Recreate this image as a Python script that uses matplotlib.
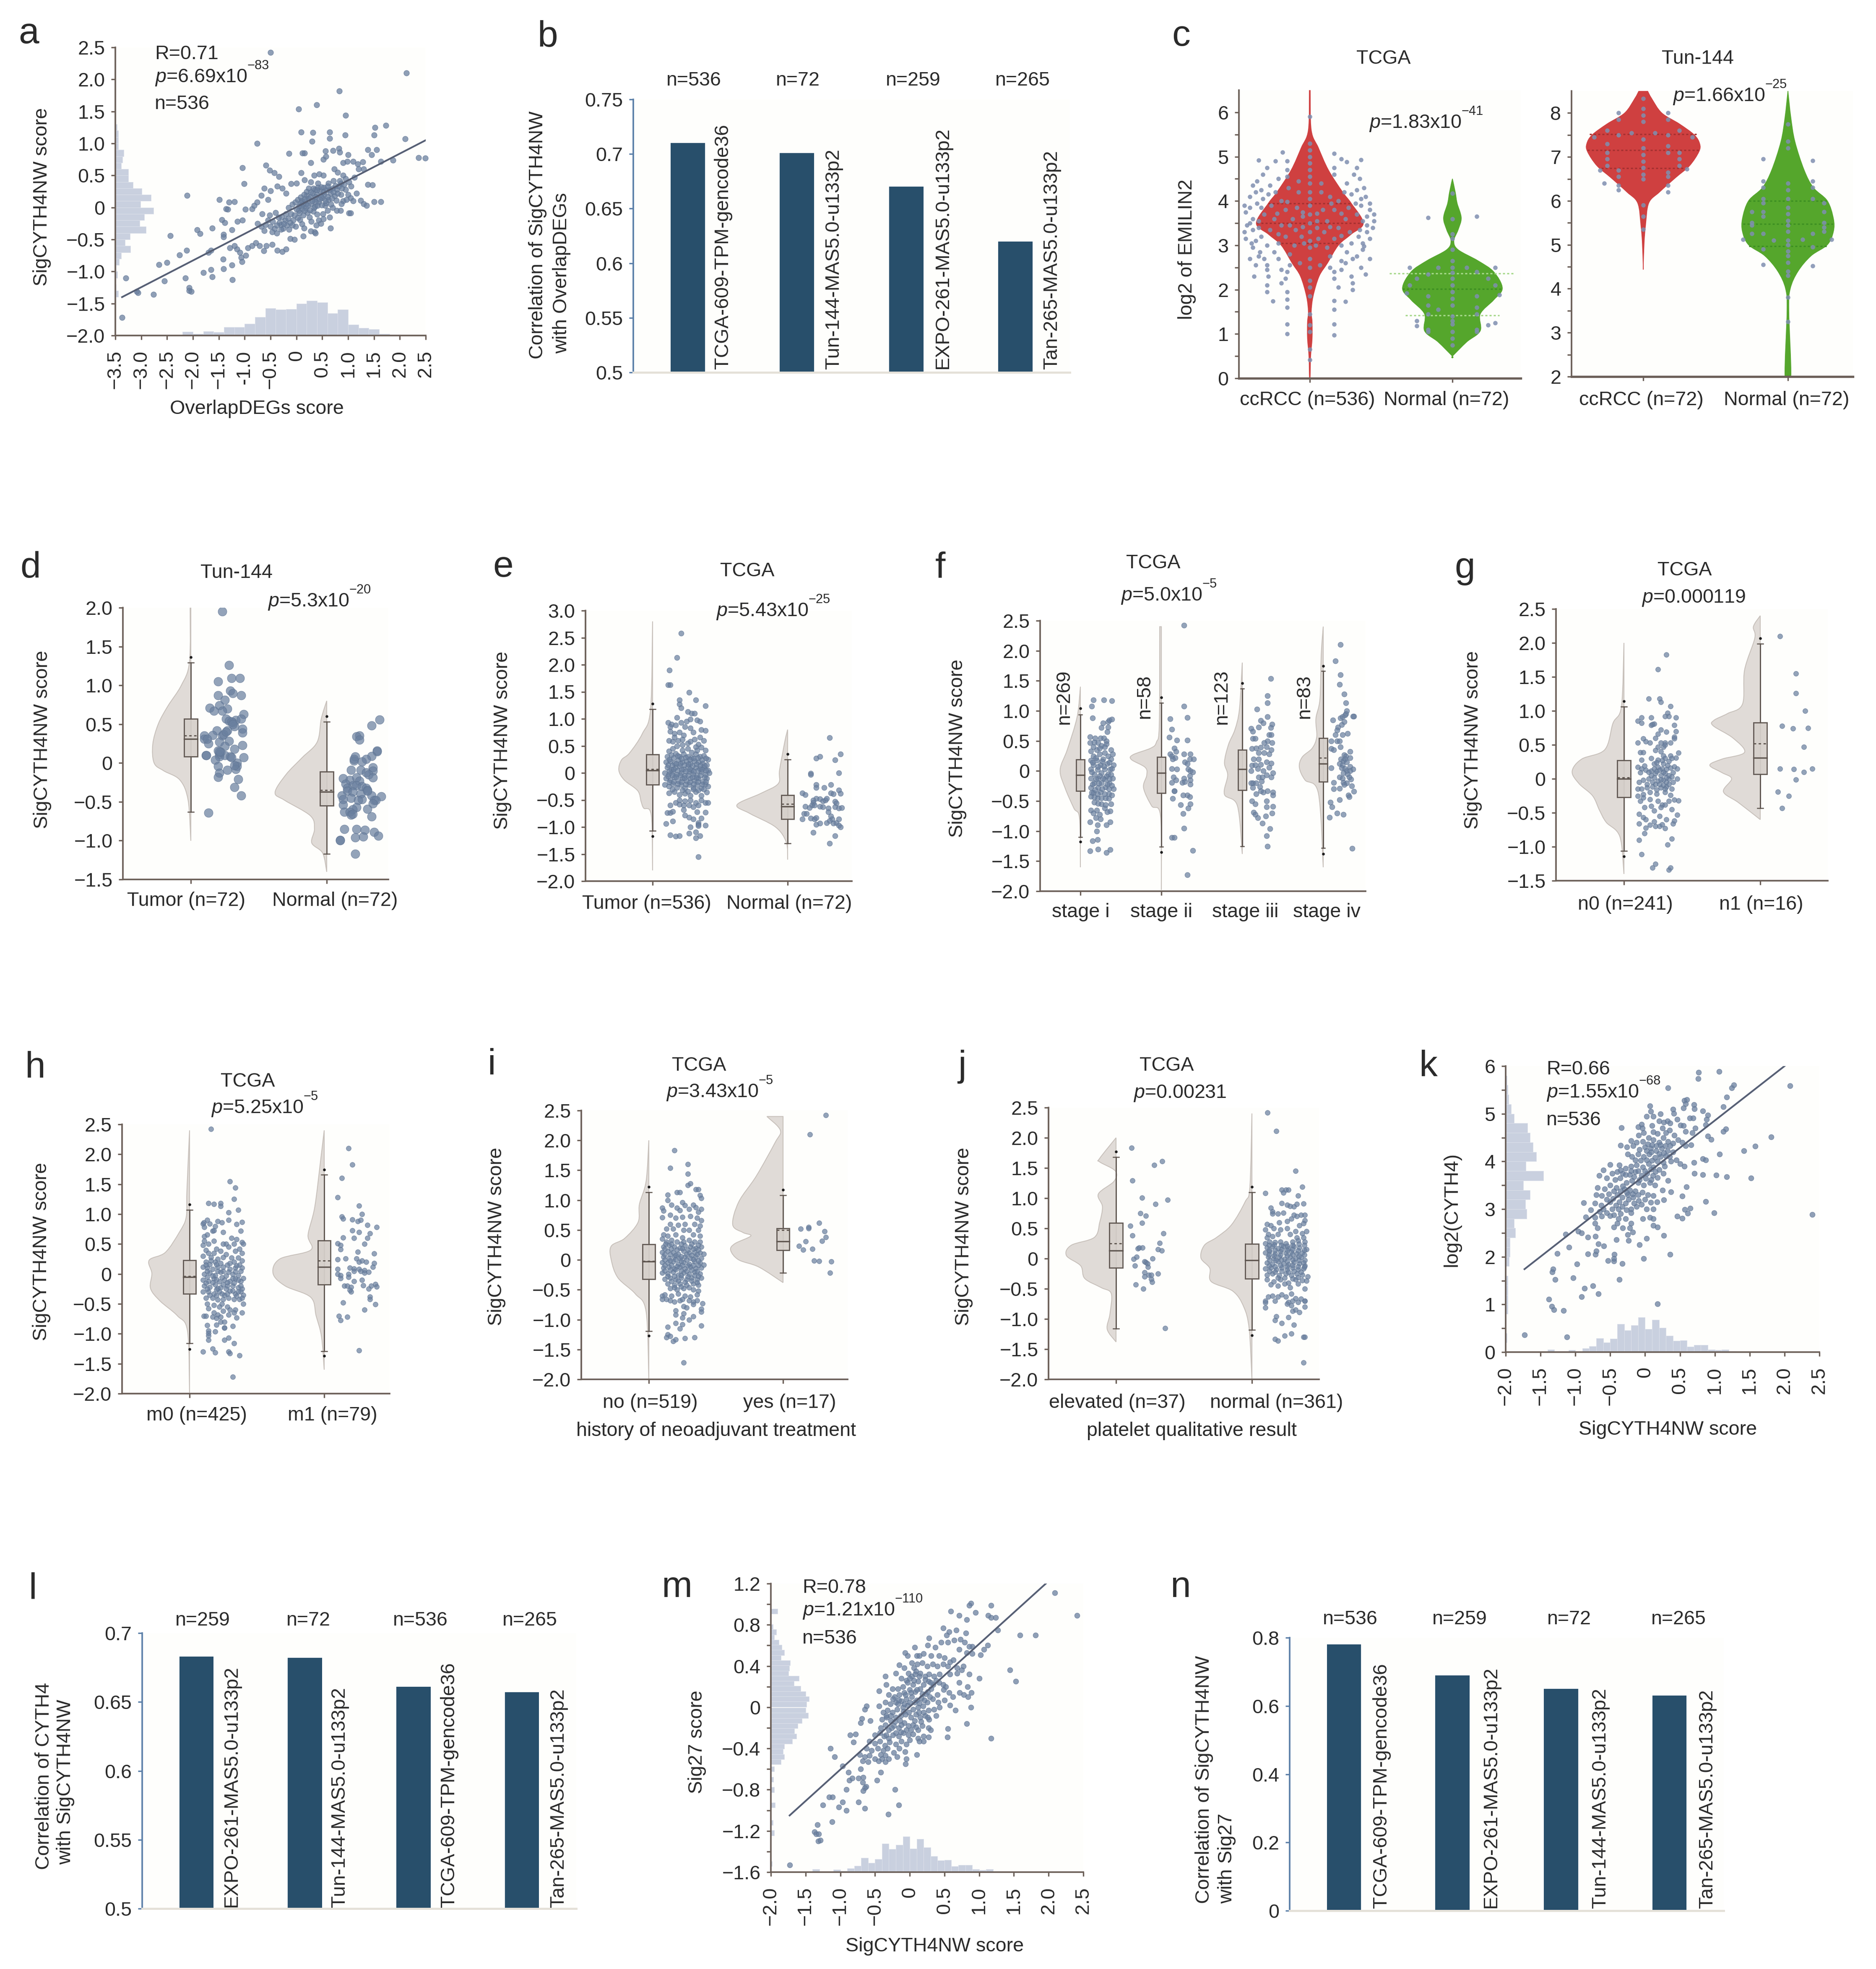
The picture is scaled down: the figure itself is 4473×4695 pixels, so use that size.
import numpy as np
import matplotlib
matplotlib.use('Agg')
import matplotlib.pyplot as plt
from matplotlib.path import Path
from matplotlib.patches import PathPatch, Rectangle

plt.rcParams['font.family'] = ['Liberation Sans', 'DejaVu Sans']
plt.rcParams['mathtext.fontset'] = 'custom'
plt.rcParams['mathtext.rm'] = 'Liberation Sans'
plt.rcParams['mathtext.it'] = 'Liberation Sans:italic'

W, H = 4473, 4695
FS = 11.2
TXT = '#2a2a2a'
AXC = '#6b5f58'
DOT = '#6a809f'
GREY = '#e0dbd7'
BAR = '#284f6b'

# ---------- scatter a ----------
a_pts = [(-.5,2.42),(2.13,2.1),(.83,1.82),(.04,1.54),(.39,1.6),(.95,1.44),(1.52,1.25),(1.73,1.28),(.09,1.18),(.32,1.17),(.64,1.18),(.64,1.08),(.94,1.13),(1.5,1.13),(2.1,1.07),(.3,1.03),(-.76,1.0),(2.36,.78),(2.49,.77),
(-3.37,-1.72),(-3.3,-1.1),(-3.09,-1.31),(-3.06,-1.33),(-2.76,-1.36),(-2.11,.19),(-2.44,-.44),(-2.66,-.89),(-2.5,-.86),(-2.55,-1.15),(-2.15,-1.1),(-2.07,-1.25),(-2.07,-1.3),(-2.03,-1.31),(-2.12,-.67),(-2.26,-.74),(-1.92,-.35),(-1.86,-.41),(-1.63,-.32),(-1.8,-1.02),(-1.65,-.97),(-1.63,-1.08),(-1.41,-.96),(-1.24,-1.13),(-1.25,-.9),(-1.42,-.81),(-1.49,.12),(-1.04,.62),(-1.01,.37),(-.59,.66),(-.52,.58),(-.43,.54),(-.34,.48),
(-1.3,.08),(-1.2,.09),(-1.36,-.02),(-1.33,-.03),(-1.44,-.19),(-1.38,-.24),(-1.41,-.42),(-1.41,-.46),(-1.65,-.67),(-1.7,-.7),(-1.25,-.35),(-1.14,-.22),(-1.04,-.2),(-.99,-.03),(-.86,-.02),(-.82,.03),(-.76,.08),(-.68,.19),(-.62,.3),(-.55,.12),(-.5,.26),(-.37,.33),(-.27,.3),(-.2,.22),(-.1,.37),(.0,.38),(.09,.54),(.24,.3),(.34,.5),(.44,.52),(.52,.5),
(1.0,.82),(1.1,.72),(1.19,.68),(1.28,.71),(1.38,.9),(1.45,.82),(1.55,.9),(1.63,.72),(1.87,.74),(1.12,.47),(1.2,.6),(1.3,.6),(1.38,.36),(1.47,.35),(1.16,.22),(1.24,.11),(1.3,.06),(1.36,.03),(1.5,.09),(1.63,.09),(1.02,-.09),(1.05,-.09),(.66,-.32),(.35,-.38),(.37,-.4),
(.82,.92),(.71,.89),(.56,.88),(.16,.85),(-.14,.84),(.12,.85),(.28,.7),(.52,.75),(.57,.8),(.84,.86),(.9,.7),(.98,.72),(.73,.6),(.8,.55),(.9,.5),(.95,.45),(1.02,.4),(1.06,.33),(.86,.38),(.72,.42),(.62,.38),(.53,.31),(.42,.38),(.16,.43),(.28,.4),(.36,.28),
(-1.15,-.65),(-1.09,-.7),(-1.07,-.78),(-1.05,-.85),(-.98,-.75),(-.94,-.63),(-.86,-.6),(-.78,-.55),(-.71,-.6),(-.63,-.68),(-.58,-.6),(-.47,-.58),(-.37,-.67),(-.27,-.69),(-.2,-.65),(-.12,-.49),(-.04,-.5),(.13,-.45),(.28,-.37),(-1.2,-.6),(-1.29,-.63),
(-.75,-.25),(-.68,-.3),(-.62,-.36),(-.55,-.2),(-.5,-.3),(-.47,-.38),(-.42,-.33),(-.38,-.4),(-.33,-.24),(-.28,-.15),(-.22,-.2),(-.18,-.28),(-.14,-.34),(-.1,-.1),(-.06,-.2),(-.01,-.3),(.04,-.05),(.07,-.19),(.11,-.26),(.15,-.32),(.18,.0),(.21,-.08),(.25,-.15),(.29,-.22),(.33,-.06),(.36,.02),(.4,-.11),(.43,-.2),(.47,-.25),(.51,-.1),(.55,.03),(.6,-.05),(.64,-.15),(.7,.0),(.78,-.05),(.85,-.05),
(-.15,.0),(-.08,.05),(-.02,.08),(.03,.12),(.08,.16),(.12,.05),(.17,.1),(.2,.19),(.24,.14),(.28,.06),(.31,.22),(.35,.12),(.39,.2),(.43,.08),(.46,.26),(.5,.15),(.54,.2),(.58,.27),(.62,.12),(.66,.22),(.7,.3),(.74,.18),(.78,.28),(.82,.33),(.86,.2),(.9,.1),(.95,.28),(1.0,.2),(1.05,.15),(1.1,.1),(.2,.25),(.33,.3),(.42,.31),(.15,.2),(.1,.1),(.05,.02),(.12,-.02),(.27,.16),(.37,.09),(.47,.17),(.57,.07),(.67,.05),(.77,.11),(.87,.06),(.97,.12),
(-.4,-.08),(-.35,-.15),(-.3,-.27),(-.26,-.33),(-.2,-.1),(-.16,-.17),(-.12,-.24),(-.08,-.28),(-.04,-.12),(0,-.03),(.03,-.16),(.06,-.09),(.09,.03),(.13,-.12),(.16,-.05),(.19,.06),(.22,.03),(.26,-.04),(.3,.1),(.34,.0),(.37,.17),(.41,.03),(.45,.13),(.49,.04),(.52,.24),(.56,.11),(.6,.17),(.64,.28),(.68,.14),(.72,.24),(.76,.34),(.8,.22),(.84,.42),(.88,.3),(.92,.36),(.28,.24),(.16,.13),(.4,.27),(.08,.07),(-.46,-.22),(-.52,-.12),(-.6,-.27),(-.66,-.1),(-.38,-.28),(-.24,-.25),(-.3,-.34),(.48,.32),(.6,.33),(.52,-.18),(.38,-.28)]
a_line_x = [-3.37, 2.5]
a_line_y = [-1.4, 1.05]
a_hx_left = [-2.2,-2.0,-1.8,-1.6,-1.4,-1.2,-1.0,-.8,-.6,-.4,-.2,0,.2,.4,.6,.8,1.0,1.2,1.4,1.6,1.8]
a_hx_h = [.06,.023,.065,.055,.13,.13,.185,.29,.425,.406,.415,.5,.545,.517,.346,.406,.17,.115,.1,.023,.01]
a_hy_c = [1.25,1.15,1.05,.95,.85,.75,.65,.55,.45,.35,.25,.15,.05,-.05,-.15,-.25,-.35,-.45,-.55,-.65,-.75,-.85,-.95,-1.05,-1.15,-1.25,-1.35]
a_hy_w = [.03,.06,.06,.06,.16,.14,.11,.25,.25,.34,.51,.69,.49,.74,.56,.47,.59,.28,.19,.29,.11,.07,.02,.04,.01,.02,.06]

# ---------- bars ----------
b_vals = [.71,.701,.67,.62]
b_labels = ['TCGA-609-TPM-gencode36','Tun-144-MAS5.0-u133p2','EXPO-261-MAS5.0-u133p2','Tan-265-MAS5.0-u133p2']
b_ns = ['n=536','n=72','n=259','n=265']
l_vals = [.683,.682,.661,.657]
l_labels = ['EXPO-261-MAS5.0-u133p2','Tun-144-MAS5.0-u133p2','TCGA-609-TPM-gencode36','Tan-265-MAS5.0-u133p2']
l_ns = ['n=259','n=72','n=536','n=265']
n_vals = [.78,.69,.65,.63]
n_labels = ['TCGA-609-TPM-gencode36','EXPO-261-MAS5.0-u133p2','Tun-144-MAS5.0-u133p2','Tan-265-MAS5.0-u133p2']
n_ns = ['n=536','n=259','n=72','n=265']

# ---------- violins c (y, half width in category units) ----------
c1t_v = [(6.5,.003),(5.6,.01),(5.2,.06),(4.7,.13),(4.2,.23),(3.95,.29),(3.5,.375),(3.25,.29),(3.0,.2),(2.6,.124),(2.3,.065),(1.85,.023),(1.5,.01),(1.27,.016),(.9,.016),(.5,.006),(0,.002)]
c1n_v = [(4.5,.0),(4.2,.02),(3.95,.033),(3.62,.062),(3.35,.04),(3.1,.01),(2.9,.04),(2.65,.18),(2.4,.29),(2.03,.35),(1.77,.29),(1.45,.195),(1.07,.195),(.82,.1),(.5,0)]
c2t_v = [(8.5,.03),(8.33,.058),(8,.128),(7.75,.25),(7.5,.353),(7.3,.39),(7.12,.385),(6.8,.32),(6.53,.224),(6.2,.112),(5.95,.038),(5.45,.016),(5.05,.006),(4.5,0)]
c2n_v = [(8.5,0),(7.9,.02),(7.35,.048),(6.7,.112),(6.3,.176),(6,.272),(5.6,.314),(5.3,.314),(5,.272),(4.75,.16),(4.4,.07),(4.0,.016),(3.5,.006),(2,.02)]
c1t_q = [(3.95,.29),(3.5,.37),(3.05,.2)]
c1n_q = [(2.37,.44),(2.02,.35),(1.42,.33)]
c2t_q = [(7.52,.37),(7.15,.385),(6.74,.29)]
c2n_q = [(6.0,.27),(5.47,.31),(4.97,.27)]
c1t_p = [(-.19,5.1),(-.16,4.9),(-.24,4.9),(-.36,4.92),(-.3,4.75),(.17,5.07),(.22,4.95),(.26,4.88),(.36,4.93),(.33,4.75),(-.33,4.6),(-.16,4.7),(-.16,4.55),(.17,4.75),(.17,4.6),(.31,4.6),(.35,4.5),(-.37,4.45),(-.28,4.35),(-.22,4.5),(.26,4.4),(.38,4.3),(-.42,4.1),(-.38,4.2),(-.33,4.05),(.39,4.1),(.42,3.95),(-.46,3.9),(-.45,3.75),(-.42,3.85),(-.4,3.6),(.42,3.8),(.45,3.7),(.45,3.55),(.4,3.65),(-.44,3.45),(-.46,3.3),(-.4,3.35),(.44,3.4),(.4,3.3),(-.45,3.15),(-.38,3.1),(.42,3.15),(.37,3.05),(-.4,2.95),(-.35,2.85),(-.32,2.7),(.37,2.9),(.33,2.75),(.42,2.7),(-.42,2.7),(-.38,2.55),(-.3,2.55),(.25,2.6),(.36,2.5),(-.39,2.3),(-.3,2.45),(-.16,2.4),(-.17,2.25),(.17,2.4),(.17,2.25),(.39,2.35),(-.3,2.1),(-.2,2.15),(.2,2.05),(.3,2.15),(-.3,1.95),(-.16,1.95),(.3,2.0),(-.16,1.78),(-.26,1.74),(.17,1.75),(.25,1.73),(-.16,1.6),(.17,1.55),(-.16,1.22),(.17,1.22),(-.16,1.0),(.17,.97),
(0,5.9),(0,5.3),(0,5.15),(0,5.0),(0,4.85),(0,4.7),(0,4.55),(0,4.4),(0,4.2),(0,4.05),(0,3.9),(0,3.7),(0,3.5),(0,3.3),(0,3.1),(0,2.95),(0,2.7),(0,2.5),(0,2.2),(0,2.05),(0,1.85),(0,1.45),(0,1.2),(0,1.05),(0,.65),(0,.42),
(-.08,4.45),(.08,4.4),(-.08,4.2),(.08,4.2),(-.15,4.3),(.14,4.1),(-.2,4.0),(.2,4.0),(-.27,3.9),(.27,3.85),(-.32,3.7),(.33,3.7),(-.25,3.6),(.25,3.6),(-.17,3.8),(.17,3.8),(-.09,3.85),(.09,3.8),(-.12,3.6),(.12,3.55),(-.05,3.65),(.05,3.55),(-.2,3.45),(.2,3.4),(-.28,3.35),(.28,3.3),(-.1,3.35),(.1,3.3),(-.17,3.2),(.17,3.15),(-.06,3.2),(.06,3.15),(-.22,3.05),(.22,3.0),(-.11,3.0),(.12,2.95),(-.14,2.8),(.14,2.75),(-.07,2.6),(.07,2.55),(-.14,2.55),(.14,2.5),
(-.4,4.35),(-.34,4.25),(-.29,4.15),(-.24,4.2),(.33,4.25),(.29,4.15),(.24,4.2),(.36,4.05),(-.37,3.95),(-.34,3.85),(.36,3.9),(.32,3.95),(-.42,3.5),(-.36,3.55),(.37,3.55),(.4,3.45),(-.36,3.4),(.35,3.35),(-.34,3.2),(.34,3.2),(-.41,3.05),(-.3,3.0),(.29,3.05),(.38,2.98),(-.36,2.75),(-.25,2.85),(.26,2.85),(.3,2.7),(-.22,2.7),(.22,2.65),(-.16,3.98),(.15,3.95),(-.23,3.72),(.22,3.72),(-.14,3.45),(.14,3.42),(-.22,3.25),(.22,3.22),(-.04,3.05),(.04,3.0),(-.05,3.42),(.05,3.4),(-.05,3.75),(.05,3.72),(-.29,2.3),(.29,2.3),(-.2,2.45),(.22,2.45)]
c1n_p = [(-.17,3.62),(.17,3.65),(0,4.17),(0,3.6),(0,3.25),(0,3.15),(0,2.9),(0,2.65),(0,2.5),(0,2.38),(0,2.25),(0,2.1),(0,1.95),(0,1.8),(0,1.65),(0,1.4),(0,1.3),(0,1.22),(0,1.05),(0,.9),(0,.75),(-.1,2.5),(.1,2.5),(-.17,2.35),(.17,2.4),(-.3,2.5),(.3,2.5),(-.25,2.25),(.25,2.25),(-.3,2.1),(.3,2.1),(-.32,1.92),(.33,1.88),(-.17,1.85),(.17,1.85),(-.17,1.65),(-.1,1.55),(.17,1.6),(-.17,1.45),(.17,1.45),(-.25,1.3),(-.25,1.18),(.25,1.2),(-.17,1.1),(-.17,1.05),(.17,1.1),(.17,1.05),(.3,1.25)]
c2t_p = [(0,8.33),(0,8.1),(0,7.95),(0,7.8),(-.17,8.0),(-.17,7.85),(.17,8.0),(.17,7.85),(-.25,7.6),(-.17,7.5),(.25,7.6),(.17,7.5),(-.34,7.45),(.34,7.45),(-.08,7.55),(.08,7.55),(0,7.4),(0,7.2),(0,7.05),(0,6.9),(0,6.75),(0,6.6),(0,6.5),(0,5.9),(0,5.65),(0,5.35),(-.25,7.3),(.17,7.25),(.17,7.1),(-.25,7.1),(-.25,6.95),(.25,7.1),(.25,6.95),(.25,6.8),(-.25,6.8),(-.17,6.7),(.17,6.65),(-.3,6.7),(.3,6.72),(-.17,6.55),(.17,6.55),(-.27,6.4),(.17,6.2),(-.17,6.35),(.17,6.35),(-.17,6.25)]
c2n_p = [(0,7.75),(0,7.35),(0,7.2),(-.17,6.95),(.17,6.92),(.17,6.45),(-.17,6.45),(0,6.4),(0,6.25),(.17,6.3),(-.17,6.3),(0,6.05),(-.17,6.05),(.17,6.05),(-.17,5.95),(.25,5.95),(-.25,5.75),(-.17,5.75),(.25,5.75),(0,5.85),(0,5.7),(0,5.55),(0,5.45),(-.25,5.5),(-.25,5.45),(.25,5.5),(.25,5.4),(-.17,5.65),(0,5.3),(-.17,5.25),(.17,5.25),(.25,5.3),(-.25,5.25),(-.31,5.12),(.3,5.12),(-.1,5.1),(.1,5.12),(0,5.1),(0,5.0),(-.17,4.9),(.17,4.95),(0,4.85),(0,4.75),(0,4.6),(-.17,4.55),(.17,4.52),(0,4.4),(0,4.3),(0,3.8),(0,3.25)]

# ---------- raincloud panels: half violin outlines ----------
d_v = [[(2.0,.005),(1.3,.01),(1.0,.07),(.73,.17),(.5,.24),(.24,.28),(0,.27),(-.1,.2),(-.22,.08),(-.48,.02),(-1,0)],
       [(.8,0),(.57,.04),(.27,.07),(.07,.18),(-.15,.3),(-.38,.38),(-.48,.31),(-.68,.12),(-.85,.09),(-1.03,.11),(-1.16,.03),(-1.4,0)]]
e_v = [[(2.8,0),(1.18,.015),(.73,.075),(.37,.17),(.24,.23),(.05,.25),(-.13,.21),(-.33,.11),(-.53,.085),(-.65,.066),(-.78,.01),(-1.8,0)],
       [(.8,0),(.59,.02),(.05,.06),(-.2,.07),(-.38,.2),(-.59,.375),(-.75,.28),(-1.0,.09),(-1.28,.01),(-1.6,0)]]
f_v = [[(1.4,0),(.9,.04),(.36,.16),(.02,.25),(-.28,.19),(-.62,.08),(-.79,.01),(-1.6,0)],
       [(2.4,.02),(.78,.025),(.48,.06),(.38,.13),(.27,.35),(.19,.37),(.06,.2),(-.07,.18),(-.28,.22),(-.58,.12),(-.75,.01),(-1.98,0)],
       [(1.8,0),(1.03,.035),(.69,.09),(.44,.17),(.14,.22),(-.07,.18),(-.39,.22),(-.58,.06),(-1.38,0)],
       [(2.4,0),(1.93,.025),(1.2,.04),(.87,.09),(.57,.08),(.38,.135),(.23,.26),(.06,.295),(-.15,.225),(-.37,.06),(-1.6,0)]]
g_v = [[(2.0,0),(1.07,.018),(.82,.08),(.43,.14),(.29,.31),(.11,.38),(-.07,.33),(-.25,.23),(-.46,.18),(-.64,.13),(-.85,.03),(-1.4,0)],
       [(2.4,0),(2.24,.05),(2.07,.04),(1.6,.115),(1.1,.13),(.96,.24),(.86,.34),(.78,.345),(.6,.2),(.39,.115),(.29,.28),(.2,.37),(.09,.28),(0,.21),(-.19,.27),(-.35,.16),(-.6,0)]]
h_v = [[(2.4,0),(1.38,.02),(.95,.025),(.7,.075),(.36,.18),(.23,.3),(.01,.28),(-.24,.29),(-.45,.22),(-.7,.09),(-.96,.015),(-2,0)],
       [(2.4,0),(1.93,.025),(1.12,.07),(.65,.12),(.4,.1),(.25,.33),(.01,.38),(-.2,.29),(-.39,.1),(-.7,.06),(-1.05,.02),(-1.6,0)]]
i_v = [[(2.0,0),(1.32,.02),(.93,.07),(.63,.08),(.36,.18),(.23,.28),(0,.28),(-.3,.23),(-.57,.1),(-.87,.02),(-2,0)],
       [(2.4,.12),(2.17,.02),(1.96,.06),(1.4,.2),(.97,.33),(.59,.375),(.46,.3),(.4,.24),(.27,.36),(.16,.39),(0,.33),(-.12,.18),(-.38,0)]]
j_v = [[(2.0,0),(1.66,.12),(1.6,.12),(1.45,.005),(1.28,.015),(1.07,.13),(.86,.1),(.6,.12),(.35,.16),(.22,.33),(.05,.365),(-.12,.26),(-.33,.23),(-.48,.11),(-.58,.035),(-.92,.045),(-1.17,.065),(-1.38,0)],
       [(2.4,0),(1.19,.015),(.94,.05),(.56,.15),(.35,.26),(.22,.35),(.01,.375),(-.16,.31),(-.38,.3),(-.54,.14),(-.8,.06),(-1.17,.02),(-2,0)]]

# box stats: q1, median, mean, q3, whisker low, whisker high, outliers
d_b = [(.08,.31,.35,.57,-.63,1.29,[1.36]),(-.55,-.37,-.35,-.11,-1.17,.53,[.6])]
e_b = [(-.22,.05,.07,.34,-1.07,1.18,[1.28,-1.17]),(-.85,-.62,-.57,-.41,-1.3,.25,[.35])]
f_b = [(-.33,-.07,-.07,.19,-1.1,.94,[1.04,-1.18]),(-.37,-.03,-.03,.23,-1.26,1.13,[1.22,-1.35]),(-.32,.03,.03,.35,-1.25,1.37,[1.46]),(-.18,.12,.22,.55,-1.28,1.66,[1.75,-1.38])]
g_b = [(-.27,0,.02,.27,-1.06,1.06,[1.14,-1.14]),(.07,.31,.52,.83,-.43,1.99,[2.07])]
h_b = [(-.33,-.05,-.04,.23,-1.16,1.07,[1.16,-1.26]),(-.18,.12,.22,.56,-1.29,1.66,[1.74,-1.37])]
i_b = [(-.32,-.03,-.02,.26,-1.19,1.13,[1.22,-1.27]),(.16,.31,.5,.53,-.22,1.08,[1.17])]
j_b = [(-.15,.13,.25,.59,-1.16,1.68,[1.77]),(-.33,-.03,-.03,.24,-1.18,1.1,[1.19,-1.27])]

# jitter points (offset from category, y)
d_p = [[(.23,1.95),(.28,1.26),(.2,1.05),(.3,1.09),(.36,1.09),(.29,.93),(.31,.9),(.37,.87),(.2,.87),(.25,.81),(.14,.71),(.21,.74),(.27,.7),(.17,.67),(.23,.67),(.39,.63),(.26,.57),(.33,.55),(.37,.57),(.28,.54),(.31,.52),(.32,.47),(.19,.42),(.27,.42),(.38,.44),(.38,.39),(.1,.35),(.16,.36),(.23,.35),(.1,.31),(.13,.25),(.28,.28),(.21,.27),(.25,.22),(.38,.23),(.32,.18),(.2,.16),(.11,.1),(.115,.1),(.21,.11),(.25,.1),(.29,.08),(.39,.07),(.21,.08),(.18,.04),(.34,0),(.2,-.04),(.34,-.04),(.33,-.08),(.27,-.09),(.21,-.13),(.2,-.18),(.35,-.21),(.32,-.31),(.37,-.42),(.13,-.64),(.3,.53),(.31,.5),(.24,.37),(.26,.4),(.22,.14),(.3,.07),(.32,-.03),(.21,.15),(.12,.31)],
 [(.39,.56),(.33,.48),(.24,.35),(.22,.34),(.24,.3),(.37,.16),(.37,.15),(.33,.09),(.29,.05),(.21,.08),(.2,.03),(.26,.02),(.18,-.09),(.25,-.09),(.34,-.06),(.34,-.1),(.29,-.12),(.31,-.15),(.34,-.19),(.12,-.2),(.17,-.22),(.22,-.19),(.24,-.23),(.14,-.27),(.19,-.29),(.22,-.29),(.26,-.3),(.15,-.32),(.29,-.32),(.3,-.35),(.15,-.36),(.19,-.37),(.11,-.42),(.25,-.4),(.33,-.42),(.4,-.43),(.18,-.45),(.12,-.47),(.26,-.47),(.23,-.48),(.35,-.48),(.36,-.48),(.34,-.52),(.12,-.54),(.22,-.57),(.3,-.59),(.19,-.6),(.13,-.63),(.17,-.63),(.18,-.67),(.33,-.69),(.13,-.85),(.22,-.85),(.28,-.86),(.35,-.89),(.38,-.94),(.21,-.96),(.27,-.95),(.1,-.99),(.1,-1.0),(.21,-1.17),(.19,-.66),(.2,.05),(.3,-.36)]]
e_p = [[(.21,2.58),(.18,2.13),(.125,1.9),(.115,1.63),(.13,1.63),(.27,1.49),(.2,1.35),(.32,1.35),(.2,1.27),(.21,1.2),(.39,1.24),(.26,1.13),(.29,1.1),(.31,1.1),
(.18,1.02),(.115,.93),(.14,.9),(.17,.88),(.21,.93),(.25,.95),(.28,.99),(.33,.98),(.35,.95),(.13,.85),(.24,.85),(.28,.83),(.36,.8),(.39,.78),(.13,.77),(.16,.73),(.2,.75),(.23,.7),(.3,.75),(.35,.66),(.38,.6),(.12,.6),(.15,.58),(.19,.6),(.22,.62),(.26,.55),(.31,.62),(.34,.53),(.36,.47),(.39,.42),(.12,.4),(.15,.45),(.18,.5),(.22,.42),(.26,.45),(.29,.38),(.32,.48),
(.11,.3),(.14,.33),(.17,.36),(.2,.3),(.23,.35),(.26,.3),(.29,.28),(.32,.35),(.35,.3),(.38,.32),(.41,.25),(.1,.2),(.13,.22),(.16,.18),(.19,.24),(.22,.2),(.25,.22),(.28,.17),(.31,.22),(.34,.2),(.37,.18),(.4,.15),(.11,.1),(.14,.06),(.17,.1),(.2,.13),(.23,.07),(.26,.12),(.29,.05),(.32,.1),(.35,.08),(.38,.1),(.41,.05),(.09,0),(.12,-.02),(.15,.02),(.18,-.03),(.21,.0),(.24,-.05),(.27,.02),(.3,-.02),(.33,-.05),(.36,.02),(.39,-.03),(.42,0),(.1,-.1),(.13,-.13),(.16,-.08),(.19,-.15),(.22,-.1),(.25,-.15),(.28,-.1),(.31,-.14),(.34,-.1),(.37,-.16),(.4,-.1),(.09,-.22),(.12,-.25),(.15,-.2),(.18,-.27),(.21,-.22),(.24,-.28),(.27,-.22),(.3,-.27),(.33,-.22),(.36,-.28),(.39,-.21),(.41,-.25),(.12,-.37),(.16,-.35),(.2,-.4),(.24,-.38),(.28,-.42),(.32,-.35),(.36,-.42),(.4,-.36),(.2,-.5),(.24,-.52),(.28,-.5),(.32,-.55),(.36,-.5),(.39,-.55),(.41,-.55),(.17,-.55),(.2,-.58),(.23,-.6),(.27,-.6),(.3,-.63),(.34,-.6),(.13,-.6),
(.11,-.74),(.13,-.74),(.15,-.71),(.24,-.78),(.33,-.72),(.39,-.73),(.23,-.68),(.27,-.82),(.36,-.84),(.1,-.94),(.15,-.89),(.3,-.85),(.34,-.92),(.34,-.95),(.39,-.97),(.28,-1.0),(.34,-.98),(.13,-1.15),(.17,-1.17),(.2,-1.16),(.27,-1.12),(.32,-1.09),(.32,-1.2),(.35,-1.16),(.34,-1.55),
(.125,.25),(.155,.28),(.185,.32),(.215,.26),(.245,.29),(.275,.25),(.305,.27),(.335,.28),(.365,.24),(.395,.27),(.115,.15),(.145,.14),(.175,.17),(.205,.17),(.235,.15),(.265,.16),(.295,.13),(.325,.16),(.355,.14),(.385,.13),(.125,.04),(.155,.07),(.185,.05),(.215,.06),(.245,.03),(.275,.07),(.305,.03),(.335,.05),(.365,.06),(.395,.05),(.115,-.06),(.145,-.04),(.175,-.07),(.205,-.05),(.235,-.09),(.265,-.05),(.295,-.08),(.325,-.09),(.355,-.05),(.385,-.08),(.125,-.17),(.155,-.16),(.185,-.2),(.215,-.16),(.245,-.21),(.275,-.17),(.305,-.2),(.335,-.16),(.365,-.21),(.395,-.16),(.145,-.3),(.22,-.32),(.26,-.34),(.3,-.3),(.34,-.32),(.38,-.3),(.22,.52),(.28,.58),(.33,.42),(.16,.66)],
 [(.31,.65),(.39,.35),(.21,.27),(.24,.3),(.35,.24),(.38,0),(.17,-.01),(.17,-.03),(.21,-.22),(.21,-.27),(.32,-.22),(.27,-.27),(.38,-.32),(.32,-.37),(.11,-.37),(.13,-.4),(.21,-.47),(.19,-.5),(.24,-.48),(.26,-.52),(.28,-.5),(.29,-.47),(.34,-.39),(.39,-.38),(.35,-.53),(.36,-.56),(.19,-.55),(.18,-.6),(.13,-.62),(.16,-.64),(.2,-.6),(.24,-.62),(.26,-.63),(.3,-.65),(.35,-.63),(.38,-.65),(.4,-.64),(.12,-.75),(.14,-.75),(.3,-.72),(.32,-.8),(.11,-.85),(.17,-.84),(.2,-.85),(.21,-.83),(.33,-.85),(.38,-.85),(.21,-.95),(.24,-.93),(.29,-.92),(.31,-.88),(.34,-.93),(.36,-.92),(.38,-.97),(.39,-1.0),(.19,-1.1),(.35,-1.16),(.31,-1.3)]]
f_p = [[(.16,1.18),(.29,1.18),(.39,1.17),(.14,1.08),(.15,.88),(.28,.8),(.34,.82),(.36,.85),(.39,.86),(.26,.72),(.34,.73),(.33,.65),(.12,.57),(.18,.55),(.25,.55),(.29,.55),(.32,.5),(.12,.47),(.22,.47),(.32,.45),(.16,.4),(.26,.42),(.38,.35),(.13,.33),(.2,.35),(.3,.3),(.4,.28),(.16,.25),(.24,.28),(.34,.25),(.13,.18),(.2,.18),(.28,.2),(.38,.2),(.16,.1),(.25,.1),(.33,.12),(.41,.1),(.13,.03),(.21,.02),(.3,.03),(.37,.03),(.17,-.05),(.26,-.03),(.34,-.05),(.13,-.12),(.22,-.12),(.3,-.14),(.4,-.12),(.17,-.2),(.26,-.2),(.36,-.2),(.13,-.28),(.22,-.28),(.31,-.27),(.41,-.3),(.16,-.36),(.25,-.35),(.35,-.38),(.13,-.42),(.21,-.45),(.31,-.45),(.17,-.52),(.26,-.55),(.38,-.55),(.13,-.65),(.2,-.65),(.3,-.62),(.37,-.67),(.16,-.7),(.24,-.72),(.33,-.68),(.19,-.78),(.25,-.8),(.12,-.85),(.37,-.85),(.21,-.9),(.32,-.9),(.2,-1.0),(.15,-1.16),(.21,-1.14),(.12,-1.33),(.22,-1.3),(.32,-1.36),(.37,-1.31),
(.19,.22),(.27,.16),(.36,.14),(.15,.14),(.22,.07),(.29,.08),(.39,.04),(.14,-.02),(.24,-.08),(.32,-.09),(.38,-.06),(.19,-.14),(.28,-.12),(.36,-.13),(.15,-.22),(.23,-.21),(.33,-.22),(.39,-.24),(.18,-.31),(.27,-.3),(.35,-.3),(.14,-.36),(.21,-.38),(.3,-.38),(.39,-.4),(.17,-.44),(.26,-.45),(.35,-.46),(.22,-.54),(.31,-.56),(.24,.38),(.3,.4),(.17,.48)],
 [(.28,2.42),(.28,1.08),(.32,.89),(.11,.87),(.13,.69),(.1,.56),(.19,.51),(.32,.51),(.16,.38),(.11,.28),(.18,.32),(.13,.25),(.17,.22),(.28,.28),(.36,.28),(.35,.2),(.4,.2),(.14,.2),(.29,.15),(.32,.12),(.13,.04),(.19,.03),(.33,.03),(.36,.0),(.39,-.02),(.15,-.1),(.28,-.12),(.35,-.08),(.18,-.15),(.13,-.19),(.26,-.19),(.29,-.18),(.36,-.15),(.36,-.22),(.16,-.33),(.16,-.33),(.27,-.4),(.32,-.4),(.35,-.43),(.14,-.46),(.24,-.56),(.36,-.55),(.33,-.62),(.27,-.71),(.28,-.95),(.13,-1.11),(.16,-1.11),(.39,-1.32),(.32,-1.73)],
 [(.35,1.54),(.31,1.25),(.31,1.13),(.18,1.03),(.31,.9),(.23,.84),(.26,.8),(.37,.78),(.2,.73),(.11,.71),(.13,.66),(.35,.72),(.33,.6),(.36,.6),(.13,.54),(.16,.54),(.31,.5),(.27,.47),(.37,.47),(.12,.37),(.17,.38),(.23,.39),(.3,.4),(.36,.35),(.2,.3),(.27,.3),(.33,.28),(.14,.2),(.2,.2),(.3,.15),(.36,.13),(.12,.09),(.16,.1),(.23,.11),(.33,.06),(.11,0),(.19,.04),(.26,0),(.38,-.03),(.2,-.1),(.25,-.1),(.3,-.07),(.36,-.1),(.13,-.2),(.11,-.2),(.17,-.2),(.24,-.17),(.13,-.28),(.22,-.26),(.26,-.35),(.31,-.33),(.38,-.35),(.38,-.4),(.17,-.38),(.23,-.33),(.12,-.5),(.16,-.55),(.3,-.5),(.3,-.6),(.38,-.59),(.14,-.69),(.16,-.72),(.29,-.75),(.37,-.7),(.19,-.78),(.25,-.87),(.34,-.96),(.3,-1.08),(.31,-1.25)],
 [(.21,2.1),(.15,1.83),(.21,1.6),(.2,1.44),(.26,1.28),(.28,1.13),(.29,1.0),(.28,.95),(.38,.91),(.37,.91),(.21,.88),(.24,.9),(.27,.93),(.12,.85),(.26,.82),(.23,.77),(.18,.73),(.17,.68),(.15,.6),(.24,.6),(.3,.62),(.1,.5),(.17,.5),(.2,.5),(.21,.4),(.1,.37),(.13,.35),(.33,.32),(.26,.27),(.28,.25),(.33,.22),(.22,.2),(.25,.17),(.27,.2),(.29,.15),(.2,.12),(.24,.1),(.23,.05),(.33,.07),(.1,.05),(.37,.03),(.27,.04),(.29,0),(.33,0),(.25,-.03),(.3,-.05),(.2,-.1),(.32,-.1),(.24,-.12),(.13,-.19),(.25,-.19),(.29,-.2),(.34,-.14),(.26,-.23),(.2,-.29),(.13,-.3),(.35,-.25),(.38,-.34),(.31,-.4),(.32,-.43),(.09,-.52),(.2,-.48),(.11,-.6),(.17,-.7),(.25,-.72),(.08,-.77),(.36,-1.29)]]
g_p = [[(.31,1.83),(.25,1.61),(.18,1.18),(.26,1.18),(.27,1.13),(.34,1.07),(.32,.97),(.13,.9),(.2,.9),(.3,.92),(.33,.92),(.38,.9),(.1,.85),(.13,.82),(.22,.81),(.2,.79),(.21,.8),(.37,.79),(.27,.72),(.25,.66),(.31,.69),(.38,.7),(.37,.62),(.23,.6),(.14,.59),(.16,.55),(.19,.53),(.1,.53),(.27,.53),(.3,.53),(.34,.53),(.37,.59),(.25,.47),(.29,.47),(.3,.5),(.23,.42),(.12,.39),(.14,.39),(.27,.4),(.34,.34),(.4,.38),(.29,.34),(.38,.31),(.13,.28),(.2,.3),(.25,.28),(.3,.3),(.35,.3),(.22,.22),(.29,.22),(.32,.2),(.37,.18),(.1,.17),(.13,.15),(.16,.13),(.2,.12),(.25,.17),(.28,.15),(.31,.14),(.34,.16),(.39,.15),(.12,.09),(.18,.1),(.23,.08),(.27,.05),(.3,.08),(.36,.09),(.14,-.02),(.18,.0),(.22,.02),(.25,-.03),(.29,-.02),(.33,0),(.39,0),(.11,-.05),(.17,-.08),(.23,-.08),(.31,-.05),(.36,-.05),(.1,-.15),(.13,-.15),(.17,-.13),(.21,-.12),(.27,-.13),(.31,-.12),(.35,-.15),(.1,-.25),(.14,-.23),(.19,-.2),(.24,-.22),(.3,-.2),(.34,-.24),(.12,-.33),(.14,-.28),(.19,-.3),(.25,-.33),(.28,-.38),(.33,-.33),(.37,-.31),(.4,-.32),(.15,-.42),(.2,-.4),(.22,-.47),(.27,-.42),(.3,-.38),(.35,-.45),(.11,-.52),(.14,-.57),(.26,-.55),(.39,-.53),(.11,-.66),(.16,-.6),(.22,-.63),(.31,-.6),(.36,-.66),(.37,-.62),(.16,-.72),(.19,-.68),(.23,-.7),(.26,-.7),(.28,-.67),(.3,-.73),(.15,-.8),(.35,-.88),(.11,-.9),(.32,-.97),(.13,-1.11),(.23,-1.25),(.21,-1.31),(.33,-1.34),(.34,-1.31),
(.24,.24),(.28,.27),(.33,.26),(.15,.19),(.22,.15),(.29,.1),(.33,.05),(.24,.11),(.26,.13),(.2,.05),(.27,-.01),(.31,.02),(.35,.03),(.21,-.05),(.26,-.08),(.29,-.09),(.33,-.08),(.24,-.16),(.3,-.15)],
 [(.145,2.1),(.26,1.55),(.26,1.26),(.33,1.0),(.16,.78),(.24,.74),(.35,.75),(.32,.47),(.145,.15),(.245,.14),(.38,.15),(.32,.1),(.26,-.01),(.13,-.19),(.21,-.25),(.16,-.43)]]
h_p = [[(.16,2.42),(.3,1.55),(.34,1.44),(.33,1.25),(.14,1.18),(.18,1.17),(.23,1.18),(.23,1.13),(.36,1.07),(.29,1.03),(.1,.84),(.105,.86),(.13,.9),(.15,.84),(.19,.8),(.21,.88),(.24,.86),(.29,.9),(.35,.83),(.39,.87),(.11,.78),(.17,.72),(.25,.7),(.38,.72),(.13,.66),(.11,.63),(.18,.73),(.11,.55),(.14,.5),(.18,.55),(.27,.5),(.31,.6),(.35,.58),(.39,.53),(.1,.48),(.2,.42),(.25,.5),(.29,.45),(.33,.5),(.37,.42),(.4,.5),(.12,.4),(.14,.35),(.18,.35),(.23,.38),(.27,.33),(.34,.38),(.39,.35),(.1,.3),(.16,.28),(.21,.25),(.25,.28),(.31,.27),(.36,.27),(.39,.22),(.12,.2),(.15,.16),(.19,.2),(.23,.18),(.28,.15),(.33,.2),(.37,.15),(.1,.12),(.13,.1),(.17,.08),(.21,.12),(.25,.05),(.3,.08),(.34,.1),(.39,.1),(.11,.0),(.15,.02),(.19,-.02),(.23,.03),(.27,-.03),(.32,.0),(.36,-.02),(.4,-.07),(.1,-.1),(.14,-.12),(.18,-.08),(.22,-.13),(.26,-.1),(.3,-.12),(.34,-.08),(.38,-.12),(.11,-.2),(.15,-.22),(.19,-.18),(.23,-.23),(.28,-.2),(.32,-.2),(.36,-.23),(.39,-.25),(.1,-.3),(.14,-.3),(.18,-.33),(.22,-.3),(.26,-.35),(.3,-.28),(.34,-.33),(.38,-.3),(.4,-.35),(.12,-.4),(.17,-.4),(.21,-.43),(.25,-.42),(.29,-.4),(.33,-.42),(.37,-.42),(.13,-.5),(.18,-.52),(.24,-.5),(.28,-.55),(.4,-.5),(.14,-.58),(.22,-.55),(.3,-.6),(.34,-.6),(.18,-.65),(.21,-.68),(.25,-.62),(.29,-.68),(.33,-.65),(.39,-.65),(.105,-.7),(.12,-.7),(.17,-.72),(.2,-.74),(.23,-.72),(.35,-.73),(.2,-.85),(.23,-.8),(.26,-.8),(.13,-.86),(.26,-.9),(.32,-.87),(.14,-.95),(.19,-.96),(.14,-.99),(.14,-1.03),(.26,-.9),(.29,-1.07),(.26,-1.1),(.14,-1.1),(.33,-1.16),(.17,-1.25),(.1,-1.3),(.19,-1.31),(.29,-1.3),(.3,-1.33),(.37,-1.36),(.32,-1.72),
(.12,.15),(.16,.22),(.2,.16),(.25,.12),(.3,.18),(.35,.14),(.38,.05),(.13,.05),(.17,-.03),(.21,.05),(.29,.03),(.34,.04),(.13,-.05),(.2,-.09),(.24,-.06),(.28,-.14),(.32,-.07),(.36,-.1),(.12,-.15),(.17,-.14),(.21,-.24),(.25,-.18),(.33,-.15),(.38,-.2),(.13,-.25),(.2,-.26),(.27,-.25),(.32,-.28),(.36,-.3),(.15,-.35),(.2,-.36),(.24,-.33),(.28,-.33),(.35,-.37),(.39,-.4)],
 [(.18,2.1),(.21,1.83),(.13,1.6),(.1,1.28),(.26,1.14),(.28,1.0),(.13,.96),(.14,.92),(.21,.91),(.25,.88),(.27,.9),(.32,.82),(.39,.78),(.21,.73),(.26,.7),(.34,.68),(.14,.61),(.22,.6),(.32,.6),(.1,.51),(.12,.48),(.3,.5),(.12,.41),(.25,.37),(.37,.34),(.1,.24),(.16,.26),(.24,.26),(.26,.2),(.28,.22),(.31,.2),(.37,.18),(.1,.08),(.19,.1),(.22,.09),(.26,.08),(.3,.06),(.36,.12),(.1,0),(.12,-.02),(.18,.0),(.22,.05),(.27,.05),(.3,.02),(.33,.03),(.12,-.07),(.18,-.05),(.22,-.12),(.28,-.1),(.15,-.2),(.17,-.2),(.2,-.22),(.29,-.19),(.35,-.2),(.38,-.17),(.39,-.21),(.33,-.25),(.2,-.3),(.19,-.27),(.34,-.38),(.34,-.42),(.14,-.48),(.38,-.51),(.3,-.6),(.11,-.7),(.17,-.72),(.12,-.77),(.26,-1.28)]]
i_p = [[(.19,1.83),(.16,1.54),(.29,1.6),(.29,1.44),(.29,1.25),(.31,1.28),(.35,1.18),(.37,1.18),(.21,1.13),(.23,1.13),(.14,1.09),(.38,1.08),(.39,1.03),(.14,1.0),(.17,.92),(.25,.96),(.27,.91),(.33,.92),(.35,.88),(.1,.87),(.11,.82),(.21,.87),(.23,.83),(.3,.85),(.39,.85),(.37,.8),(.1,.71),(.16,.75),(.2,.7),(.25,.72),(.31,.73),(.36,.7),(.39,.66),(.16,.6),(.22,.58),(.27,.6),(.34,.6),(.38,.57),(.13,.52),(.18,.52),(.26,.5),(.3,.5),(.37,.5),(.11,.42),(.14,.4),(.2,.42),(.25,.37),(.33,.42),(.38,.4),(.1,.35),(.13,.3),(.17,.33),(.21,.3),(.26,.3),(.3,.33),(.34,.3),(.38,.3),(.11,.22),(.15,.25),(.19,.22),(.23,.2),(.27,.24),(.31,.22),(.35,.2),(.39,.22),(.1,.13),(.14,.15),(.18,.13),(.22,.1),(.26,.15),(.3,.12),(.34,.13),(.38,.12),(.41,.1),(.11,.05),(.15,.03),(.19,.05),(.23,.02),(.27,.05),(.31,.03),(.35,.05),(.39,.03),(.1,-.04),(.14,-.05),(.18,-.03),(.22,-.07),(.26,-.04),(.3,-.07),(.34,-.03),(.38,-.05),(.41,-.08),(.11,-.13),(.15,-.12),(.19,-.15),(.23,-.12),(.27,-.15),(.31,-.12),(.35,-.14),(.39,-.13),(.1,-.22),(.14,-.23),(.18,-.2),(.22,-.25),(.26,-.22),(.3,-.24),(.34,-.2),(.38,-.23),(.12,-.32),(.16,-.3),(.2,-.33),(.24,-.3),(.28,-.33),(.32,-.3),(.36,-.33),(.39,-.3),(.14,-.4),(.19,-.42),(.23,-.4),(.28,-.42),(.33,-.4),(.37,-.42),(.16,-.48),(.21,-.5),(.26,-.48),(.33,-.5),(.37,-.52),(.1,-.6),(.12,-.58),(.17,-.6),(.22,-.57),(.27,-.6),(.31,-.62),(.36,-.58),(.1,-.66),(.13,-.66),(.16,-.68),(.19,-.7),(.23,-.68),(.25,-.66),(.3,-.68),(.33,-.7),(.36,-.68),(.4,-.73),(.26,-.78),(.28,-.8),(.33,-.74),(.39,-.82),(.2,-.85),(.2,-.92),(.39,-.87),(.26,-.9),(.25,-.97),(.33,-.95),(.3,-1.0),(.2,-1.06),(.25,-1.08),(.14,-1.12),(.23,-1.15),(.39,-1.1),(.14,-1.25),(.13,-1.3),(.16,-1.28),(.18,-1.36),(.2,-1.33),(.27,-1.31),(.34,-1.3),(.26,-1.72),
(.125,.27),(.17,.27),(.24,.27),(.32,.27),(.37,.25),(.12,.18),(.165,.18),(.21,.17),(.25,.19),(.29,.17),(.33,.18),(.37,.17),(.12,.09),(.16,.09),(.2,.08),(.24,.06),(.28,.09),(.32,.08),(.36,.09),(.12,0),(.16,-.01),(.2,.01),(.24,-.02),(.28,.0),(.33,.01),(.37,-.01),(.12,-.09),(.17,-.09),(.21,-.11),(.25,-.09),(.29,-.1),(.33,-.09),(.37,-.09),(.12,-.18),(.16,-.17),(.2,-.16),(.24,-.18),(.28,-.19),(.32,-.17),(.36,-.19),(.14,-.27),(.19,-.27),(.24,-.26),(.29,-.28),(.34,-.26),(.37,-.27),(.17,-.36),(.22,-.35),(.27,-.37),(.32,-.35),(.36,-.38),(.19,-.46),(.24,-.45),(.3,-.46)],
 [(.32,2.42),(.2,2.1),(.27,.62),(.19,.55),(.19,.53),(.13,.52),(.31,.48),(.32,.38),(.29,.32),(.17,.31),(.12,.23),(.22,.18),(.15,.17),(.23,-.01),(.27,-.02),(.36,-.03),(.35,-.22)]]
j_p = [[(.115,1.83),(.28,1.55),(.34,1.61),(.12,1.29),(.19,1.01),(.29,.9),(.38,.97),(.18,.75),(.22,.71),(.19,.59),(.105,.54),(.12,.38),(.35,.42),(.32,.26),(.16,.17),(.17,.18),(.195,.18),(.31,.15),(.335,.13),(.13,-.01),(.15,.03),(.27,0),(.21,-.05),(.22,-.06),(.23,-.08),(.14,-.12),(.235,-.14),(.21,-.23),(.21,-.3),(.24,-.27),(.26,-.27),(.31,-.25),(.26,-.34),(.265,-.39),(.145,-.43),(.2,-.5),(.36,-1.15)],
 [(.115,2.42),(.18,2.11),(.32,1.45),(.1,1.08),(.37,1.19),(.22,1.14),(.25,1.14),(.27,1.14),(.23,1.09),(.34,1.04),(.22,.92),(.26,.89),(.28,.87),(.31,.86),(.33,.9),(.38,.91),(.14,.84),(.15,.78),(.15,.74),(.19,.74),(.23,.76),(.31,.72),(.33,.7),(.36,.72),(.39,.72),(.39,.63),(.11,.57),(.14,.55),(.2,.6),(.26,.62),(.29,.66),(.35,.55),(.38,.58),(.1,.48),(.12,.4),(.16,.5),(.21,.48),(.26,.5),(.32,.45),(.37,.42),(.4,.45),(.11,.35),(.15,.37),(.19,.4),(.28,.4),(.33,.35),(.38,.35),(.1,.25),(.13,.28),(.17,.27),(.21,.28),(.25,.25),(.3,.28),(.34,.3),(.39,.28),(.11,.18),(.15,.2),(.19,.17),(.23,.2),(.27,.17),(.31,.2),(.35,.18),(.4,.15),(.1,.1),(.13,.12),(.17,.08),(.21,.12),(.25,.09),(.29,.11),(.33,.08),(.37,.1),(.12,.03),(.16,0),(.2,.03),(.24,-.01),(.28,.03),(.32,0),(.36,.02),(.39,-.03),(.11,-.07),(.15,-.09),(.19,-.05),(.23,-.08),(.27,-.1),(.31,-.06),(.35,-.08),(.39,-.12),(.1,-.17),(.14,-.15),(.18,-.18),(.22,-.15),(.26,-.18),(.3,-.15),(.34,-.18),(.38,-.17),(.11,-.27),(.15,-.25),(.2,-.28),(.25,-.25),(.29,-.28),(.33,-.25),(.37,-.27),(.41,-.3),(.11,-.35),(.16,-.38),(.21,-.35),(.27,-.4),(.32,-.35),(.37,-.36),(.4,-.37),(.14,-.43),(.19,-.45),(.24,-.42),(.28,-.48),(.34,-.42),(.39,-.5),(.12,-.63),(.15,-.62),(.19,-.63),(.22,-.6),(.25,-.63),(.29,-.58),(.32,-.66),(.36,-.67),(.39,-.7),(.1,-.7),(.17,-.7),(.27,-.72),(.3,-.7),(.34,-.72),(.39,-.7),(.1,-.73),(.26,-.75),(.29,-.78),(.1,-.81),(.39,-.8),(.3,-.87),(.32,-.85),(.35,-.89),(.18,-.96),(.27,-.97),(.17,-1.02),(.22,-1.07),(.31,-1.1),(.17,-1.33),(.19,-1.36),(.24,-1.28),(.29,-1.24),(.38,-1.3),(.39,-1.3),(.38,-1.72),
(.125,.22),(.165,.23),(.215,.22),(.26,.21),(.3,.22),(.345,.24),(.385,.22),(.125,.14),(.17,.14),(.22,.15),(.26,.14),(.3,.15),(.34,.13),(.385,.14),(.125,.06),(.165,.05),(.21,.06),(.26,.05),(.3,.07),(.345,.04),(.385,.06),(.13,-.03),(.175,-.03),(.215,-.02),(.26,-.04),(.3,-.02),(.345,-.03),(.38,-.07),(.125,-.12),(.17,-.13),(.21,-.11),(.26,-.13),(.3,-.11),(.34,-.13),(.385,-.14),(.13,-.21),(.17,-.22),(.22,-.21),(.27,-.22),(.31,-.21),(.36,-.22),(.19,-.32),(.24,-.32),(.3,-.33),(.34,-.31)]]

# ---------- scatter k ----------
k_pts = [(.77,5.87),(.76,5.74),(1.06,5.89),(.33,5.54),(1.24,5.54),(1.27,5.6),(2.08,5.59),(1.17,5.35),(.56,5.28),(.6,5.3),(.58,5.21),(.07,5.16),(.7,5.19),(1.12,5.15),(.55,5.12),(.71,5.1),(.4,5.09),(.83,5.06),(.08,5.05),(.41,5.01),(.22,5),(.9,4.97),(.88,4.88),(.02,4.94),(.12,4.94),(.46,4.88),(.64,4.91),(.69,4.91),(-.34,4.71),(.87,4.77),(1.16,4.68),(1.12,4.63),(.9,4.53),(.95,4.46),(1.81,4.51),(1.58,4.32),(1.42,4.22),(1.07,4.15),(.83,4.06),(.87,4.03),(.7,3.98),(.71,3.75),(.83,3.72),(1.02,3.71),(1.17,3.68),(1.52,3.65),(.59,3.47),(.37,3.36),(.53,3.27),(.27,3.19),(.87,3.16),(.65,3.02),(.57,2.99),(.61,2.91),(.99,2.92),(2.4,2.89),(.46,2.85),(.53,2.81),(.27,2.45),(.36,2.05),(-.02,1.96),(-.08,2.25),(.02,2.38),(-.24,2.34),(-.41,2.36),(-.59,2.23),(-.67,2.27),(-.82,2.41),(-.71,2.43),(-1.14,2.47),(-.96,2.53),(-.91,2.5),(-1.09,2.2),(-1.26,2.07),(-.82,2.06),(-.71,2.05),(-.7,2.12),(-.44,2.05),(-.53,1.92),(-.45,1.91),(-.45,1.96),(-.33,1.86),(-.98,1.85),(-1.32,1.74),(-1.33,1.68),(-1.29,1.52),(-1.03,1.56),(-.37,1.52),(-.75,1.39),(-.87,1.34),(-.67,1.22),(-.91,1.16),(-1.38,1.11),(-1.34,.96),(-1.31,.89),(-1.17,.87),(.18,1.01),(-1.73,.36),(-1.12,.32),
(-.05,4.78),(-.1,4.72),(-.04,4.7),(.1,4.75),(.2,4.85),(.27,4.82),(.32,4.85),(.36,4.8),(.51,4.76),(.55,4.75),(-.09,4.55),(-.02,4.6),(.12,4.62),(.18,4.58),(.25,4.7),(.3,4.6),(.35,4.65),(.42,4.55),(.58,4.63),(.68,4.6),(.72,4.7),(-.2,4.43),(-.12,4.4),(-.03,4.42),(.05,4.5),(.12,4.45),(.2,4.4),(.26,4.5),(.33,4.42),(.4,4.38),(.47,4.45),(.53,4.4),(.58,4.33),(.66,4.35),(-.35,4.34),(-.26,4.3),(-.17,4.33),(-.08,4.25),(0,4.3),(.08,4.28),(.16,4.22),(.24,4.28),(.32,4.22),(.4,4.2),(-.25,4.15),(-.19,4.1),(-.1,4.15),(-.02,4.1),(.06,4.15),(.14,4.08),(.22,4.1),(.3,4.12),(.37,4.0),(.45,4.03),(.5,3.95),(.56,3.9),(-.5,3.93),(-.37,3.92),(-.28,3.85),(-.2,3.9),(-.12,3.92),(-.03,3.88),(.05,3.95),(.12,3.88),(.2,3.83),(.28,3.9),(-.6,3.82),(-.47,3.75),(-.4,3.78),(-.32,3.75),(-.22,3.72),(-.14,3.78),(-.05,3.7),(.03,3.75),(.11,3.7),(.18,3.66),(.26,3.75),(.33,3.6),(-.66,3.7),(-.55,3.65),(-.43,3.62),(-.36,3.65),(-.27,3.55),(-.19,3.6),(-.1,3.55),(-.02,3.5),(.07,3.55),(.14,3.5),(.25,3.4),(-.68,3.45),(-.58,3.42),(-.5,3.5),(-.41,3.45),(-.3,3.42),(-.22,3.4),(-.14,3.38),(-.04,3.35),(.04,3.3),(.12,3.28),(-.7,3.3),(-.62,3.28),(-.52,3.32),(-.4,3.3),(-.33,3.25),(-.24,3.2),(-.17,3.25),(-.09,3.18),(0,3.2),(.08,3.14),(.17,3.15),(-.72,3.12),(-.63,3.08),(-.5,3.15),(-.42,3.08),(-.33,3.05),(-.2,3.0),(-.12,3.05),(.02,3.0),(.12,3.0),(-.88,3.13),(-.78,2.98),(-.65,2.95),(-.55,2.92),(-.45,2.88),(-.35,2.9),(-.2,2.92),(-.03,2.8),(.07,2.82),(.12,2.8),(-.85,2.83),(-.72,2.82),(-.62,2.85),(-.72,2.7),(-.5,2.86),(-.38,2.8),(-.28,2.8),(-.2,2.7),(.12,2.66),(.18,2.62),(-.45,2.62),(-.4,2.7),(-.32,2.6),(-.22,2.6),(-.18,2.52),(-.25,2.46),(-.68,2.6),
(.04,4.36),(.1,4.35),(.16,4.33),(.22,4.35),(.29,4.33),(.36,4.33),(.02,4.22),(.09,4.2),(.2,4.16),(.27,4.18),(.35,4.1),(-.14,4.03),(-.06,4.02),(.02,4.03),(.1,4.02),(.18,4.0),(.26,3.98),(-.2,3.8),(-.1,3.8),(0,3.8),(.08,3.84),(.15,3.78),(-.35,3.82),(-.28,3.72),(-.16,3.68),(-.08,3.62),(.01,3.64),(.09,3.62),(-.45,3.38),(-.35,3.38),(-.26,3.34),(-.18,3.32),(-.1,3.3),(-.55,3.2),(-.46,3.22),(-.37,3.15),(-.28,3.12),(-.16,3.12),(-.05,3.1),(-.6,3.0),(-.47,3.0),(-.38,3.0),(-.27,2.98),(-.25,3.3),(-.32,3.48)]
k_line_x = [-1.73, 2.0]
k_line_y = [1.74, 6.0]
k_hx_left = [-1.4,-1.3,-1.2,-1.1,-1.0,-.9,-.8,-.7,-.6,-.5,-.4,-.3,-.2,-.1,0,.1,.2,.3,.4,.5,.6,.7,.8,.9,1.0,1.1,1.2]
k_hx_h = [.056,.017,.017,.045,.017,.08,.124,.29,.2,.28,.59,.46,.56,.73,.48,.68,.51,.34,.24,.25,.11,.15,.15,.056,.04,.056,.017]
k_hy_c = [5.7,5.5,5.3,5.1,4.9,4.7,4.5,4.3,4.1,3.9,3.7,3.5,3.3,3.1,2.9,2.7,2.5,2.3,2.1,1.9,1.5,1.3,1.1,.9,.3]
k_hy_w = [.02,.03,.04,.08,.12,.31,.35,.39,.44,.29,.54,.25,.35,.28,.3,.12,.14,.06,.06,.05,.03,.03,.03,.03,.02]

# ---------- scatter m ----------
m_pts = [(2.09,1.11),(2.41,.89),(.88,1.01),(.86,.99),(1.17,.99),(.59,.93),(.95,.92),(.71,.89),(1.13,.89),(.82,.85),(1.17,.87),(1.24,.87),(.48,.77),(.67,.75),(.57,.73),(.81,.72),(1.27,.75),(.53,.7),(1.59,.7),(1.81,.7),(.28,.67),(.73,.66),(.64,.65),(.79,.63),(.45,.63),(.55,.63),(1.12,.6),(1.07,.56),(.9,.59),(.86,.59),(.71,.56),(.82,.53),(.9,.52),(1.02,.51),(-.07,.53),(.07,.58),(.26,.6),(.37,.58),(1.44,.36),(1.53,.25),(1,.28),(.86,.32),(.71,.24),(.83,.2),(.89,.14),(.72,.14),(.78,.12),(.84,.1),(.88,.0),(.66,-.03),(.82,-.16),(.55,-.21),(.54,-.29),(1.17,-.3),(-.35,.3),(-.34,.22),(-.44,.16),(-.62,.01),(-.65,-.02),(-.44,.01),(-.69,-.11),(-.71,-.15),(-.57,-.13),(-.86,-.27),(-.78,-.26),(-.81,-.34),(-1.14,-.4),(-1.08,-.48),(-.97,-.57),(-.71,-.6),(-.88,-.63),(-.42,-.63),(-.47,-.71),(-.87,-.71),(-.83,-.69),(-.74,-.69),(-.67,-.68),(-.68,-.73),(-.63,-.77),(-.65,-.78),(-.67,-.81),(-.91,-.8),(-.21,-.8),(-1.16,-.87),(-1.11,-.87),(-1.25,-.95),(-.97,-.92),(-1.02,-.97),(-.91,-1.0),(-.74,-.92),(-.65,-.98),(-.16,-.95),(-.31,-1.04),(-1.12,-1.11),(-1.33,-1.14),(-1.37,-1.21),(-1.35,-1.23),(-1.31,-1.23),(-1.32,-1.3),(-1.29,-1.29),(-1.73,-1.53),(.1,-.46),(-.06,-.55),
(-.03,.5),(.03,.43),(.1,.5),(.14,.5),(.2,.52),(.31,.5),(.42,.5),(.5,.48),(.58,.44),(.63,.46),(-.15,.41),(-.08,.38),(-.02,.33),(.06,.38),(.11,.42),(.18,.43),(.25,.4),(.33,.42),(.4,.4),(.48,.42),(.55,.4),(.68,.38),(.77,.4),(-.2,.33),(-.12,.28),(-.05,.26),(.03,.3),(.09,.35),(.15,.33),(.22,.3),(.28,.32),(.35,.3),(.43,.32),(.58,.32),(.68,.33),(.75,.36),(-.25,.18),(-.17,.18),(-.1,.2),(-.03,.24),(.05,.22),(.12,.25),(.2,.22),(.27,.25),(.34,.22),(.42,.24),(.48,.22),(.52,.2),(-.3,.12),(-.22,.1),(-.15,.12),(-.08,.14),(0,.17),(.08,.15),(.15,.18),(.23,.13),(.31,.18),(.4,.12),(.49,.17),(.57,.14),(.62,.1),(-.35,.05),(-.28,.03),(-.2,.05),(-.12,.06),(-.05,.08),(.03,.1),(.1,.07),(.17,.09),(.25,.05),(.33,.08),(.41,.05),(.5,.07),(.58,.02),(-.38,-.05),(-.32,-.03),(-.25,-.05),(-.18,-.02),(-.1,0),(-.03,.02),(.05,-.02),(.12,.0),(.19,.01),(.27,-.03),(.35,-.02),(.43,.0),(-.4,-.12),(-.33,-.1),(-.27,-.13),(-.2,-.1),(-.13,-.08),(-.06,-.07),(.02,-.1),(.09,-.07),(.15,-.1),(.22,-.08),(.28,-.12),(.38,-.08),(-.42,-.2),(-.35,-.17),(-.3,-.22),(-.23,-.18),(-.16,-.2),(-.08,-.15),(-.02,-.18),(.05,-.17),(.12,-.22),(.18,-.18),(.27,-.2),(.3,-.22),(-.5,-.27),(-.43,-.25),(-.37,-.28),(-.3,-.3),(-.24,-.27),(-.16,-.28),(-.09,-.25),(-.02,-.27),(.05,-.26),(.12,-.3),(.2,-.28),(.27,-.29),(-.58,-.33),(-.5,-.35),(-.43,-.33),(-.36,-.37),(-.29,-.34),(-.2,-.36),(-.12,-.33),(-.05,-.36),(.0,-.32),(.14,-.33),(.2,-.33),(-.62,-.4),(-.55,-.42),(-.46,-.4),(-.38,-.42),(-.32,-.4),(-.23,-.44),(-.15,-.4),(-.07,-.43),(-.05,-.5),(-.72,-.46),(-.65,-.48),(-.58,-.47),(-.5,-.5),(-.42,-.46),(-.35,-.47),(-.3,-.5),(-.18,-.48),(-.68,-.52),(-.6,-.53),(-.45,-.52),(-.4,-.5),(-.35,-.53),
(-.24,.08),(-.17,.03),(-.08,.03),(.0,.05),(.07,.05),(.14,.04),(.21,.07),(.29,.1),(-.27,-.08),(-.21,-.14),(-.14,-.13),(-.09,-.04),(-.01,-.05),(.07,-.13),(.13,-.05),(.2,-.05),(.26,-.1),(-.34,-.08),(-.26,-.2),(-.12,-.17),(-.05,-.22),(.02,-.22),(.09,-.19),(.16,-.14),(-.06,.12),(.02,.14),(.1,.17),(.18,.13),(.26,.15),(.06,.26),(.14,.3),(.22,.27),(.3,.24),(.38,.26),(-.34,-.27),(-.2,-.25),(-.13,-.24),(.08,.32),(.0,.28),(-.16,.07)]
m_line_x = [-1.73, 1.96]
m_line_y = [-1.05, 1.2]
m_hx_left = [-1.4,-1.3,-1.2,-1.1,-1.0,-.9,-.8,-.7,-.6,-.5,-.4,-.3,-.2,-.1,0,.1,.2,.3,.4,.5,.6,.7,.8,.9,1.0,1.1,1.2]
m_hx_h = [.03,.005,.005,.025,.013,.038,.063,.139,.088,.126,.277,.222,.264,.345,.227,.32,.239,.156,.113,.118,.055,.07,.07,.03,.02,.03,.008]
m_hy_c = [.93,.78,.73,.68,.63,.58,.53,.48,.43,.38,.33,.28,.23,.18,.13,.08,.03,-.03,-.08,-.13,-.18,-.23,-.28,-.33,-.38,-.43,-.48,-.53,-.6,-.7,-.8,-.95,-1.12,-1.22,-1.52]
m_hy_w = [.097,.03,.078,.047,.116,.155,.194,.147,.28,.264,.252,.407,.33,.426,.504,.55,.512,.504,.535,.446,.388,.341,.368,.31,.194,.174,.194,.147,.047,.039,.047,.058,.03,.047,.02]

# ---------------- helpers ----------------
fig = plt.figure(figsize=(W / 300, H / 300), dpi=300, facecolor='white')

def px_axes(l, r, t, b):
    ax = fig.add_axes([l / W, 1 - b / H, (r - l) / W, (b - t) / H])
    ax.set_facecolor('#fefefc')
    for s in ('top', 'right'):
        ax.spines[s].set_visible(False)
    for s in ('left', 'bottom'):
        ax.spines[s].set_color(AXC)
        ax.spines[s].set_linewidth(.9)
    ax.tick_params(colors=AXC, labelcolor=TXT, labelsize=FS, length=2.4, width=.8, pad=3.5)
    return ax

def T(x, y, s, ha='center', va='center', rot=0, fs=FS, **kw):
    return fig.text(x / W, 1 - y / H, s, ha=ha, va=va, rotation=rot, fontsize=fs, color=TXT, **kw)

def P(x, y, val, sup=None, fs=FS):
    t = T(x, y, r'$\mathit{p}$=' + val, ha='left', fs=fs)
    if sup:
        bb = t.get_window_extent(fig.canvas.get_renderer())
        fig.text(bb.x1 / W, 1 - (y - 28) / H, sup, ha='left', va='center', fontsize=7.4, color=TXT)

def lab(v, d=1):
    if abs(v) < 1e-9:
        return '0'
    s = f'{abs(v):.{d}f}'
    return ('\u2212' if v < 0 else '') + s

def catmull(pts):
    pts = [pts[0]] + list(pts) + [pts[-1]]
    verts = [pts[1]]
    codes = [Path.MOVETO]
    for i in range(1, len(pts) - 2):
        p0, p1, p2, p3 = map(np.array, (pts[i - 1], pts[i], pts[i + 1], pts[i + 2]))
        verts += [tuple(p1 + (p2 - p0) / 6), tuple(p2 - (p3 - p1) / 6), tuple(p2)]
        codes += [Path.CURVE4] * 3
    return verts, codes

def half_violin(ax, cat, prof):
    pts = [(cat - w, y) for y, w in prof]
    v, c = catmull(pts)
    v += [(cat, prof[-1][0]), (cat, prof[0][0]), (cat, prof[0][0])]
    c += [Path.LINETO, Path.LINETO, Path.CLOSEPOLY]
    ax.add_patch(PathPatch(Path(v, c), fc=GREY, ec='#c8c1bb', lw=.5, zorder=2))

def full_violin(ax, cat, prof, col):
    pts = [(cat - w, y) for y, w in prof] + [(cat + w, y) for y, w in prof[::-1]]
    v, c = catmull(pts)
    v.append(pts[0]); c.append(Path.CLOSEPOLY)
    ax.add_patch(PathPatch(Path(v, c), fc=col, ec=col, lw=.4, zorder=2))

def box(ax, cat, st, hw):
    q1, med, mean, q3, lo, hi, outs = st
    ec = '#5f5650'
    ax.plot([cat, cat], [lo, hi], color=ec, lw=.7, zorder=3)
    ax.add_patch(Rectangle((cat - hw, q1), 2 * hw, q3 - q1, fc='#d6d0cb', ec=ec, lw=.7, alpha=.95, zorder=4))
    ax.plot([cat - hw, cat + hw], [med, med], color=ec, lw=.8, zorder=5)
    ax.plot([cat - hw, cat + hw], [mean, mean], color=ec, lw=.7, ls=(0, (2, 2)), zorder=5)
    for y in (lo, hi):
        ax.plot([cat - hw * .45, cat + hw * .45], [y, y], color=ec, lw=.6, zorder=3)
    ax.scatter([cat] * len(outs), outs, s=2.5, c='#1c1c1c', lw=0, zorder=6)

def rain(geom, cats_px, ylim, yt, viols, boxes, pts, size, hw=.048):
    l, r, t, b = geom
    sp = cats_px[1] - cats_px[0]
    ax = px_axes(l, r, t, b)
    ax.set_xlim((l - cats_px[0]) / sp, (r - cats_px[0]) / sp)
    ax.set_ylim(*ylim)
    ax.set_yticks(yt)
    ax.set_yticklabels([lab(v) for v in yt])
    ax.set_xticks(range(len(cats_px)))
    ax.set_xticklabels([])
    for i, (v, st, p) in enumerate(zip(viols, boxes, pts)):
        half_violin(ax, i, v)
        box(ax, i, st, hw)
        ax.scatter([i + q[0] for q in p], [q[1] for q in p], s=size, c=DOT, alpha=.72,
                   edgecolors='#5d7290', linewidths=.25, zorder=7)
    return ax

def scat(geom, xlim, ylim, xt, yt, pts, lx, ly, hx, hxh, hxw, hy, hyw, hyh, size, yminor=None, xlabs=None, ylabs=None):
    l, r, t, b = geom
    ax = px_axes(l, r, t, b)
    ax.set_xlim(*xlim); ax.set_ylim(*ylim)
    ax.bar(hx, hxh, width=hxw, bottom=ylim[0], align='edge', color='#c9d0df', ec='#dde1ea', lw=.25, zorder=1)
    ax.barh(hy, hyw, height=hyh, left=xlim[0], align='center', color='#c9d0df', ec='#dde1ea', lw=.25, zorder=1)
    ax.scatter([q[0] for q in pts], [q[1] for q in pts], s=size, c=DOT, alpha=.75,
               edgecolors='#5d7290', linewidths=.25, zorder=3, clip_on=False)
    ax.plot(lx, ly, color='#565f74', lw=1.0, zorder=4)
    ax.set_xticks(xt)
    ax.set_xticklabels(xlabs or [lab(v) for v in xt], rotation=90, va='top', ha='center')
    ax.tick_params(axis='x', pad=6)
    ax.set_yticks(yt)
    ax.set_yticklabels(ylabs or [lab(v) for v in yt])
    if yminor is not None:
        ax.set_yticks(yminor, minor=True)
        ax.tick_params(axis='y', which='minor', length=2.4, width=.8, color=AXC)
    return ax

def bars(geom, vals, ylim, yt, ylabs):
    l, r, t, b = geom
    ax = px_axes(l, r, t, b)
    ax.bar(range(4), vals, width=.315, color=BAR, zorder=2)
    ax.set_xlim(-.5, 3.5); ax.set_ylim(*ylim)
    ax.set_xticks([])
    ax.set_yticks(yt); ax.set_yticklabels(ylabs)
    ax.spines['left'].set_color('#5b7fa8')
    ax.spines['bottom'].set_color('#e4e0d8')
    ax.spines['bottom'].set_linewidth(1.2)
    ax.tick_params(axis='y', color='#5b7fa8')
    return ax

# ---------------- panel a ----------------
ticks_a = list(np.arange(-3.5, 2.51, .5))
xlabs_a = [lab(v) for v in ticks_a]
xlabs_a[5] = '-1.0'
scat((275, 1015, 113, 800), (-3.5, 2.5), (-2, 2.5), ticks_a, list(np.arange(-2, 2.51, .5)), a_pts, a_line_x, a_line_y,
     a_hx_left, a_hx_h, .2, a_hy_c, a_hy_w, .1, 10, xlabs=xlabs_a)
T(369, 129, 'R=0.71', ha='left'); P(369, 185, '6.69x10', '\u221283'); T(369, 248, 'n=536', ha='left')
T(612, 975, 'OverlapDEGs score'); T(100, 469, 'SigCYTH4NW score', rot=90)

# ---------------- panel b ----------------
bars((1510, 2551, 237, 888), b_vals, (.5, .75), [.5, .55, .6, .65, .7, .75], ['0.5', '0.55', '0.6', '0.65', '0.7', '0.75'])
for x, s in zip([1654, 1902, 2177, 2438], b_ns):
    T(x, 192, s)
for x, s in zip([1724, 1988, 2248, 2508], b_labels):
    T(x, 880, s, rot=90, va='bottom')
T(1282, 856, 'Correlation of SigCYTH4NW', rot=90, va='bottom')
T(1339, 843, 'with OverlapDEGs', rot=90, va='bottom')

# ---------------- panel c ----------------
def vio(geom, cats, ylim, yt, ymin, v, q, p, lcols):
    l, r, t, b = geom
    sp = cats[1] - cats[0]
    ax = px_axes(l, r, t, b)
    ax.set_xlim((l - cats[0]) / sp, (r - cats[0]) / sp); ax.set_ylim(*ylim)
    ax.set_xticks([0, 1]); ax.set_xticklabels([])
    ax.set_yticks(yt); ax.set_yticklabels([str(y) for y in yt])
    ax.set_yticks(ymin, minor=True)
    ax.tick_params(axis='y', which='minor', length=2.4, width=.8, color=AXC)
    ax.spines['bottom'].set_linewidth(1.3)
    for i, col in enumerate(['#cf4040', '#55a62c']):
        full_violin(ax, i, v[i], col)
        for (y, w), lc in zip(q[i], lcols[i]):
            ax.plot([i - w, i + w], [y, y], color=lc, lw=.8, ls=(0, (1.5, 1.5)), zorder=3)
        ax.scatter([i + s[0] for s in p[i]], [s[1] for s in p[i]], s=6.5, c='#7f8fb0', alpha=.85, lw=0, zorder=4)
    return ax

vio((2954, 3626, 215, 902), (3123, 3463), (0, 6.5), list(range(7)), list(np.arange(.5, 6.5, 1)),
    [c1t_v, c1n_v], [c1t_q, c1n_q], [c1t_p, c1n_p],
    [['#a53030'] * 3, ['#a6d88a', '#3d8f22', '#a6d88a']])
vio((3747, 4418, 217, 898), (3918, 4263), (2, 8.5), list(range(2, 9)), list(np.arange(2.5, 8.5, 1)),
    [c2t_v, c2n_v], [c2t_q, c2n_q], [c2t_p, c2n_p],
    [['#a53030'] * 3, ['#3d8f22'] * 3])
T(3299, 140, 'TCGA'); T(4048, 140, 'Tun-144')
T(2830, 595, 'log2 of EMILIN2', rot=90)
P(3264, 294, '1.83x10', '\u221241'); P(3988, 230, '1.66x10', '\u221225')
for x, s in zip([3117, 3449, 3913, 4260], ['ccRCC (n=536)', 'Normal (n=72)', 'ccRCC (n=72)', 'Normal (n=72)']):
    T(x, 954, s)

# ---------------- rainclouds ----------------
y_d = [-1.5, -1, -.5, 0, .5, 1, 1.5, 2]
rain((293, 926, 1449, 2097), (455, 779), (-1.5, 2), y_d, d_v, d_b, d_p, 25)
T(564, 1366, 'Tun-144'); P(638, 1435, '5.3x10', '\u221220')
T(444, 2148, 'Tumor (n=72)'); T(799, 2148, 'Normal (n=72)'); T(101, 1763, 'SigCYTH4NW score', rot=90)

y_e = [-2, -1.5, -1, -.5, 0, .5, 1, 1.5, 2, 2.5, 3]
rain((1396, 2031, 1456, 2101), (1556, 1878), (-2, 3), y_e, e_v, e_b, e_p, 9)
T(1782, 1362, 'TCGA'); P(1707, 1458, '5.43x10', '\u221225')
T(1542, 2155, 'Tumor (n=536)'); T(1882, 2155, 'Normal (n=72)'); T(1198, 1765, 'SigCYTH4NW score', rot=90)

y_f = [-2, -1.5, -1, -.5, 0, .5, 1, 1.5, 2, 2.5]
rain((2480, 3256, 1480, 2125), (2576, 2769), (-2, 2.5), y_f, f_v, f_b, f_p, 9, hw=.05)
T(2750, 1343, 'TCGA'); P(2672, 1421, '5.0x10', '\u22125')
for x, s in zip([2577, 2769, 2969, 3163], ['stage i', 'stage ii', 'stage iii', 'stage iv']):
    T(x, 2175, s)
for x, y, s in zip([2537, 2729, 2913, 3110], [1727, 1713, 1727, 1713], ['n=269', 'n=58', 'n=123', 'n=83']):
    T(x, y, s, rot=90, va='bottom')
T(2283, 1784, 'SigCYTH4NW score', rot=90)

y_g = [-1.5, -1, -.5, 0, .5, 1, 1.5, 2, 2.5]
rain((3710, 4358, 1452, 2100), (3872, 4197), (-1.5, 2.5), y_g, g_v, g_b, g_p, 8)
T(4017, 1360, 'TCGA'); P(3914, 1426, '0.000119')
T(3875, 2157, 'n0 (n=241)'); T(4199, 2157, 'n1 (n=16)'); T(3512, 1764, 'SigCYTH4NW score', rot=90)

rain((291, 929, 2681, 3323), (452, 773), (-2, 2.5), y_f, h_v, h_b, h_p, 8)
T(591, 2579, 'TCGA'); P(503, 2643, '5.25x10', '\u22125')
T(469, 3375, 'm0 (n=425)'); T(793, 3375, 'm1 (n=79)'); T(99, 2984, 'SigCYTH4NW score', rot=90)

rain((1386, 2021, 2648, 3289), (1547, 1867), (-2, 2.5), y_f, i_v, i_b, i_p, 8)
T(1667, 2541, 'TCGA'); P(1588, 2605, '3.43x10', '\u22125')
T(1550, 3345, 'no (n=519)'); T(1883, 3345, 'yes (n=17)')
T(1707, 3412, 'history of neoadjuvant treatment'); T(1184, 2948, 'SigCYTH4NW score', rot=90)

rain((2500, 3145, 2641, 3289), (2661, 2985), (-2, 2.5), y_f, j_v, j_b, j_p, 8)
T(2782, 2541, 'TCGA'); P(2702, 2607, '0.00231')
T(2664, 3345, 'elevated (n=37)'); T(3044, 3345, 'normal (n=361)')
T(2841, 3412, 'platelet qualitative result'); T(2298, 2948, 'SigCYTH4NW score', rot=90)

# ---------------- panel k ----------------
x_km = list(np.arange(-2, 2.51, .5))
scat((3590, 4338, 2542, 3224), (-2, 2.5), (0, 6), x_km, list(range(7)), k_pts, k_line_x, k_line_y,
     k_hx_left, k_hx_h, .1, k_hy_c, k_hy_w, .2, 9, yminor=list(np.arange(.5, 6, 1)),
     ylabs=[str(i) for i in range(7)])
T(3687, 2550, 'R=0.66', ha='left'); P(3687, 2606, '1.55x10', '\u221268'); T(3687, 2671, 'n=536', ha='left')
T(3977, 3409, 'SigCYTH4NW score'); T(3462, 2884, 'log2(CYTH4)', rot=90)

# ---------------- panel l ----------------
bars((339, 1374, 3894, 4551), l_vals, (.5, .7), [.5, .55, .6, .65, .7], ['0.5', '0.55', '0.6', '0.65', '0.7'])
for x, s in zip([483, 735, 1002, 1263], l_ns):
    T(x, 3864, s)
for x, s in zip([552, 810, 1071, 1332], l_labels):
    T(x, 4548, s, rot=90, va='bottom')
T(105, 4458, 'Correlation of CYTH4', rot=90, va='bottom')
T(156, 4446, 'with SigCYTH4NW', rot=90, va='bottom')

# ---------------- panel m ----------------
y_m = [-1.6, -1.2, -.8, -.4, 0, .4, .8, 1.2]
scat((1838, 2583, 3776, 4464), (-2, 2.5), (-1.6, 1.2), x_km, y_m, m_pts, m_line_x, m_line_y,
     m_hx_left, m_hx_h, .1, m_hy_c, m_hy_w, .05, 9, yminor=list(np.arange(-1.4, 1.2, .4)))
T(1913, 3786, 'R=0.78', ha='left'); P(1913, 3841, '1.21x10', '\u2212110'); T(1913, 3907, 'n=536', ha='left')
T(2229, 4641, 'SigCYTH4NW score'); T(1662, 4154, 'Sig27 score', rot=90)

# ---------------- panel n ----------------
bars((3075, 4110, 3905, 4556), n_vals, (0, .8), [0, .2, .4, .6, .8], ['0', '0.2', '0.4', '0.6', '0.8'])
for x, s in zip([3219, 3480, 3741, 4002], n_ns):
    T(x, 3861, s)
for x, s in zip([3294, 3555, 3816, 4071], n_labels):
    T(x, 4550, s, rot=90, va='bottom')
T(2871, 4539, 'Correlation of SigCYTH4NW', rot=90, va='bottom')
T(2925, 4539, 'with Sig27', rot=90, va='bottom')

# ---------------- panel letters ----------------
letters = [('a',69,81),('b',1306,88),('c',2816,87),('d',73,1355),('e',1200,1353),('f',2242,1355),('g',3493,1355),
           ('h',84,2546),('i',1172,2540),('j',2294,2543),('k',3405,2544),('l',78,3789),('m',1614,3786),('n',2814,3786)]
for s, x, y in letters:
    T(x, y, s, fs=21)

fig.savefig('out.png', dpi=300)
